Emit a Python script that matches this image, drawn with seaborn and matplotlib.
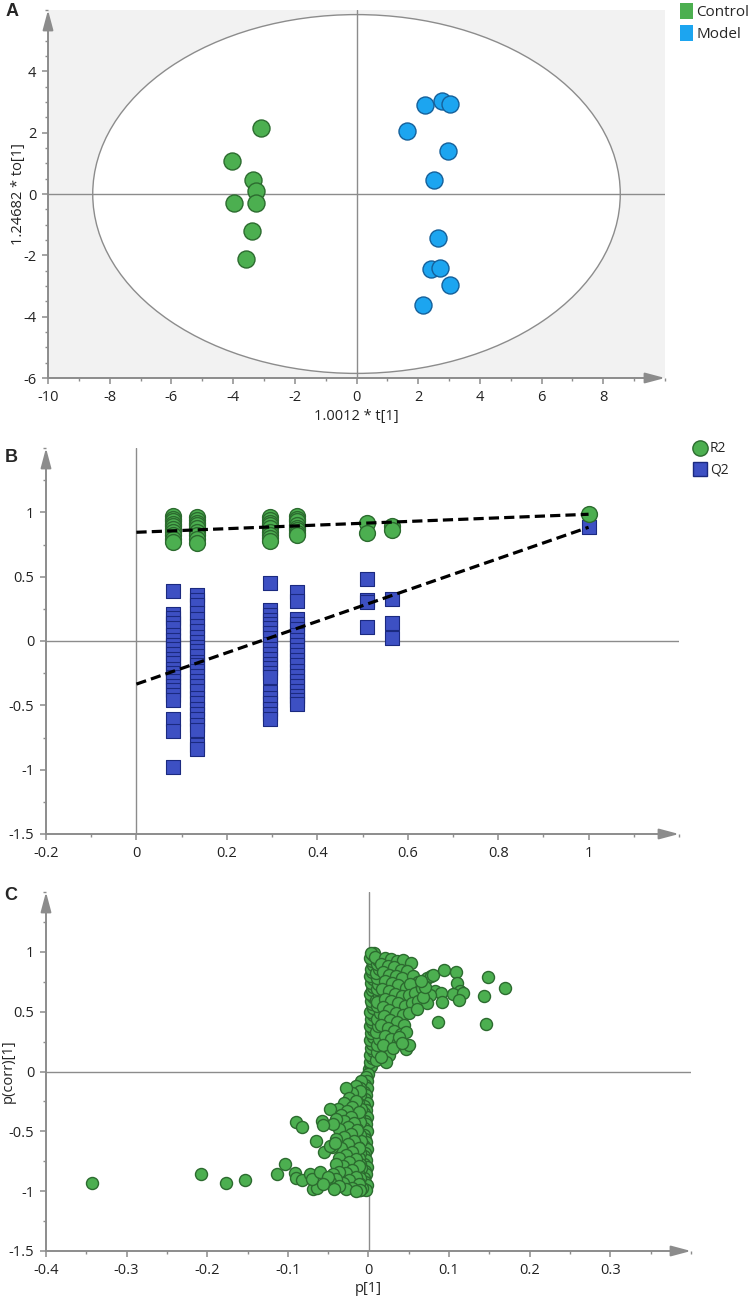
import numpy as np
import pandas as pd
import matplotlib
matplotlib.use("Agg")
import matplotlib.pyplot as plt
import seaborn as sns
from matplotlib.patches import Ellipse, Patch
from matplotlib.lines import Line2D
from matplotlib.ticker import MultipleLocator, FuncFormatter

# ---------------- Panel A data (OPLS-DA scores) ----------------
groups = ["Control", "Model"]
control_t = [-3.11, -4.03, -3.35, -3.26, -3.97, -3.26, -3.38, -3.57]
control_to = [2.15, 1.08, 0.46, 0.11, -0.29, -0.29, -1.20, -2.13]
model_t = [2.23, 2.77, 3.03, 1.63, 2.95, 2.52, 2.65, 2.42, 2.72, 3.02, 2.15]
model_to = [2.91, 3.02, 2.95, 2.07, 1.40, 0.46, -1.45, -2.45, -2.42, -2.97, -3.61]
ellipse_t_radius = 8.55
ellipse_to_radius = 5.85

# ---------------- Panel B data (permutation test) ----------------
perm_corr = [0.08, 0.135, 0.295, 0.355, 0.51, 0.565, 1.0]
r2_perm = [
    [0.97, 0.95, 0.93, 0.91, 0.89, 0.87, 0.85, 0.82, 0.79, 0.77],
    [0.96, 0.94, 0.92, 0.90, 0.88, 0.85, 0.82, 0.79, 0.76],
    [0.96, 0.94, 0.92, 0.90, 0.88, 0.85, 0.82, 0.80, 0.78],
    [0.97, 0.95, 0.93, 0.90, 0.88, 0.86, 0.84, 0.82],
    [0.92, 0.84],
    [0.89, 0.86],
    [0.99],
]
q2_perm = [
    [0.39, 0.21, 0.18, 0.14, 0.10, 0.05, 0.01, -0.03, -0.06, -0.10, -0.14, -0.17,
     -0.22, -0.25, -0.28, -0.31, -0.35, -0.38, -0.42, -0.46, -0.61, -0.70, -0.98],
    [0.36, 0.32, 0.28, 0.22, 0.17, 0.12, 0.08, 0.03, -0.01, -0.05, -0.08, -0.12,
     -0.16, -0.19, -0.23, -0.27, -0.31, -0.35, -0.39, -0.44, -0.48, -0.53, -0.57,
     -0.61, -0.65, -0.69, -0.81, -0.84],
    [0.45, 0.24, 0.20, 0.16, 0.13, 0.10, 0.06, 0.02, -0.02, -0.06, -0.10, -0.14,
     -0.18, -0.21, -0.25, -0.28, -0.40, -0.44, -0.48, -0.53, -0.57, -0.61],
    [0.38, 0.31, 0.17, 0.13, 0.09, 0.05, 0.01, -0.03, -0.07, -0.11, -0.15, -0.19,
     -0.23, -0.27, -0.31, -0.35, -0.39, -0.43, -0.46, -0.49],
    [0.48, 0.32, 0.30, 0.11],
    [0.33, 0.14, 0.02],
    [0.885],
]
r2_intercept = 0.845
q2_intercept = -0.335
r2_original = 0.985
q2_original = 0.884

# ---------------- Panel C data (S-plot) ----------------
pos_band_p = [0.001, 0.003, 0.002, 0.004, 0.002, 0.005, 0.003, 0.004, 0.002, 0.005, 0.003,
              0.006, 0.002, 0.004, 0.003, 0.005, 0.002, 0.006, 0.004, 0.003, 0.005, 0.002,
              0.004, 0.006, 0.003, 0.005, 0.002, 0.004, 0.003, 0.006, 0.004, 0.002, 0.005,
              0.004, 0.007, 0.003]
pos_band_corr = [0.02, 0.05, 0.08, 0.11, 0.14, 0.17, 0.20, 0.23, 0.26, 0.29, 0.32,
                 0.35, 0.38, 0.41, 0.44, 0.47, 0.50, 0.53, 0.56, 0.59, 0.62, 0.65,
                 0.68, 0.71, 0.74, 0.77, 0.80, 0.83, 0.86, 0.89, 0.92, 0.95, 0.97,
                 0.98, 0.99, 0.99]
pos_band2_p = [0.009, 0.011, 0.010, 0.013, 0.009, 0.012, 0.010, 0.014, 0.011, 0.009,
               0.013, 0.010, 0.012, 0.011, 0.009, 0.013, 0.010, 0.012, 0.008, 0.011]
pos_band2_corr = [0.10, 0.16, 0.22, 0.27, 0.33, 0.38, 0.44, 0.49, 0.55, 0.60,
                  0.64, 0.69, 0.73, 0.78, 0.82, 0.86, 0.90, 0.93, 0.96, 0.58]
pos_cloud_p = [0.020, 0.028, 0.035, 0.043, 0.053, 0.016, 0.024, 0.032, 0.040, 0.048,
               0.018, 0.026, 0.034, 0.042, 0.055, 0.062, 0.020, 0.029, 0.037, 0.046,
               0.052, 0.017, 0.025, 0.033, 0.041, 0.050, 0.058, 0.066, 0.020, 0.028,
               0.036, 0.045, 0.054, 0.062, 0.018, 0.026, 0.034, 0.043, 0.050, 0.019,
               0.027, 0.035, 0.044, 0.016, 0.024, 0.032, 0.040, 0.047, 0.020, 0.028,
               0.036, 0.046, 0.050, 0.025, 0.018, 0.022, 0.015, 0.030, 0.038, 0.042]
pos_cloud_corr = [0.95, 0.94, 0.92, 0.93, 0.91, 0.90, 0.88, 0.87, 0.85, 0.84,
                  0.83, 0.81, 0.80, 0.78, 0.80, 0.75, 0.76, 0.74, 0.72, 0.70,
                  0.73, 0.69, 0.67, 0.65, 0.63, 0.64, 0.66, 0.70, 0.61, 0.59,
                  0.57, 0.55, 0.57, 0.59, 0.54, 0.51, 0.49, 0.47, 0.49, 0.46,
                  0.43, 0.41, 0.39, 0.39, 0.36, 0.34, 0.31, 0.33, 0.30, 0.27,
                  0.25, 0.19, 0.22, 0.14, 0.22, 0.08, 0.12, 0.20, 0.29, 0.24]
pos_out_p = [0.073, 0.078, 0.080, 0.094, 0.109, 0.148, 0.169, 0.143, 0.146, 0.086,
             0.110, 0.113, 0.105, 0.117, 0.112, 0.083, 0.090, 0.091, 0.076, 0.072,
             0.068, 0.060, 0.070, 0.065]
pos_out_corr = [0.78, 0.80, 0.81, 0.85, 0.83, 0.79, 0.70, 0.63, 0.40, 0.41,
                0.74, 0.67, 0.65, 0.66, 0.60, 0.67, 0.66, 0.58, 0.64, 0.57,
                0.62, 0.52, 0.71, 0.76]
neg_band_p = [-0.001, -0.003, -0.002, -0.004, -0.002, -0.005, -0.003, -0.004, -0.002,
              -0.005, -0.003, -0.006, -0.002, -0.004, -0.003, -0.005, -0.002, -0.006,
              -0.004, -0.003, -0.005, -0.002, -0.004, -0.006, -0.003, -0.005, -0.002,
              -0.004, -0.003, -0.006, -0.004, -0.002, -0.005, -0.003]
neg_band_corr = [-0.02, -0.05, -0.08, -0.11, -0.14, -0.17, -0.20, -0.23, -0.26,
                 -0.29, -0.32, -0.35, -0.38, -0.41, -0.44, -0.47, -0.50, -0.53,
                 -0.56, -0.59, -0.62, -0.65, -0.68, -0.71, -0.74, -0.77, -0.80,
                 -0.83, -0.86, -0.89, -0.92, -0.95, -0.98, -0.99]
neg_band2_p = [-0.009, -0.011, -0.010, -0.013, -0.009, -0.012, -0.010, -0.014, -0.011,
               -0.009, -0.013, -0.010, -0.012, -0.011, -0.009, -0.013, -0.010, -0.012,
               -0.008, -0.011]
neg_band2_corr = [-0.08, -0.14, -0.20, -0.26, -0.31, -0.37, -0.42, -0.48, -0.53,
                  -0.58, -0.63, -0.68, -0.72, -0.77, -0.81, -0.85, -0.89, -0.93,
                  -0.97, -0.99]
neg_cloud_p = [-0.015, -0.010, -0.020, -0.028, -0.024, -0.016, -0.031, -0.038, -0.048,
               -0.020, -0.027, -0.034, -0.012, -0.022, -0.030, -0.040, -0.018, -0.026,
               -0.036, -0.044, -0.014, -0.022, -0.030, -0.040, -0.018, -0.026, -0.034,
               -0.045, -0.012, -0.020, -0.028, -0.037, -0.016, -0.024, -0.032, -0.040,
               -0.012, -0.020, -0.028, -0.036, -0.044, -0.016, -0.024, -0.032, -0.040,
               -0.048, -0.012, -0.020, -0.028, -0.036, -0.043, -0.052, -0.010, -0.016]
neg_cloud_corr = [-0.12, -0.16, -0.18, -0.14, -0.22, -0.25, -0.26, -0.31, -0.31,
                  -0.30, -0.33, -0.36, -0.34, -0.38, -0.41, -0.40, -0.43, -0.46,
                  -0.48, -0.44, -0.49, -0.52, -0.55, -0.56, -0.58, -0.61, -0.64,
                  -0.63, -0.64, -0.67, -0.70, -0.72, -0.73, -0.76, -0.79, -0.77,
                  -0.79, -0.82, -0.85, -0.84, -0.86, -0.88, -0.91, -0.93, -0.90,
                  -0.92, -0.94, -0.97, -0.98, -0.96, -0.98, -0.90, -0.99, -1.00]
neg_out_p = [-0.343, -0.208, -0.177, -0.153, -0.113, -0.103, -0.090, -0.083, -0.065,
             -0.058, -0.057, -0.091, -0.090, -0.082, -0.072, -0.069, -0.064, -0.070,
             -0.060, -0.055, -0.048, -0.042, -0.050, -0.056]
neg_out_corr = [-0.93, -0.86, -0.93, -0.91, -0.86, -0.77, -0.42, -0.46, -0.58,
                -0.41, -0.45, -0.85, -0.89, -0.91, -0.86, -0.98, -0.97, -0.90,
                -0.84, -0.67, -0.62, -0.60, -0.88, -0.94]

# ---------------- Style ----------------
sns.set_style("white")
plt.rcParams["font.family"] = ["Open Sans", "DejaVu Sans"]
plt.rcParams["axes.unicode_minus"] = False

GREEN = "#4CAF50"
GREEN_EDGE = "#2C6B2F"
BLUE = "#1CA5F0"
BLUE_EDGE = "#15609A"
NAVY = "#3D50C3"
NAVY_EDGE = "#1B2A80"
AXC = "#8C8C8C"
TXT = "#222222"

W, H = 749, 1297
fig = plt.figure(figsize=(W / 100, H / 100), dpi=100)


def px_axes(left, right, top, bottom):
    return fig.add_axes([left / W, 1 - bottom / H, (right - left) / W, (bottom - top) / H])


def _fmt(v, pos):
    v = round(v, 3) + 0.0
    if abs(v) < 1e-9:
        v = 0.0
    return "%g" % v


fmt = FuncFormatter(_fmt)


def style_axes(ax, xmaj, xmin, ymaj, ymin):
    for s in ax.spines.values():
        s.set_visible(False)
    x0, x1 = ax.get_xlim()
    y0, y1 = ax.get_ylim()
    # major ticks everywhere except at the arrow tip
    ax.set_xticks(np.arange(x0, x1 - xmaj / 2, xmaj))
    ax.set_yticks(np.arange(y0, y1 - ymaj / 2, ymaj))
    ax.set_xlim(x0, x1)
    ax.set_ylim(y0, y1)
    ax.xaxis.set_minor_locator(MultipleLocator(xmin))
    ax.yaxis.set_minor_locator(MultipleLocator(ymin))
    ax.xaxis.set_major_formatter(fmt)
    ax.yaxis.set_major_formatter(fmt)
    ax.tick_params(which="both", direction="out", color=AXC, bottom=True, left=True,
                   top=False, right=False)
    ax.tick_params(which="major", length=4.5, width=1.1, labelsize=10.5,
                   labelcolor=TXT, pad=4)
    ax.tick_params(which="minor", length=2.5, width=1.0)
    kw = dict(arrowstyle="-|>,head_length=1.2,head_width=0.32", color=AXC, lw=1.4,
              shrinkA=0, shrinkB=0)
    ax.annotate("", xy=(0, 1), xytext=(0, 0), xycoords="axes fraction",
                arrowprops=kw, annotation_clip=False, zorder=6)
    ax.annotate("", xy=(1, 0), xytext=(0, 0), xycoords="axes fraction",
                arrowprops=kw, annotation_clip=False, zorder=6)
    ax.axhline(0, color=AXC, lw=1.0, zorder=1)
    ax.axvline(0, color=AXC, lw=1.0, zorder=1)
    ax.set_xlabel("")
    ax.set_ylabel("")


# ---------------- Panel A ----------------
axA = px_axes(48, 665, 10, 378)
axA.set_facecolor("#F2F2F2")
axA.set_xlim(-10, 10)
axA.set_ylim(-6, 6)
axA.add_patch(Ellipse((0, 0), 2 * ellipse_t_radius, 2 * ellipse_to_radius,
                      facecolor="white", edgecolor="#8C8C8C", lw=1.0, zorder=0.5))
dfA = pd.DataFrame({
    "t": control_t + model_t,
    "to": control_to + model_to,
    "group": [groups[0]] * len(control_t) + [groups[1]] * len(model_t),
})
for g, fc, ec in [(groups[0], GREEN, GREEN_EDGE), (groups[1], BLUE, BLUE_EDGE)]:
    sns.scatterplot(data=dfA[dfA["group"] == g], x="t", y="to", color=fc,
                    edgecolor=ec, linewidth=1.0, s=150, ax=axA, zorder=4, legend=False)
style_axes(axA, 2, 1, 2, 0.5)
axA.set_xlabel("1.0012 * t[1]", fontsize=10.5, color=TXT)
axA.set_ylabel("1.24682 * to[1]", fontsize=10.5, color=TXT)
axA.xaxis.set_label_coords(0.5, -0.083)
axA.yaxis.set_label_coords(-0.036, 0.5)
fig.legend(handles=[Patch(facecolor=GREEN, edgecolor="none", label=groups[0]),
                    Patch(facecolor=BLUE, edgecolor="none", label=groups[1])],
           loc="upper left", bbox_to_anchor=(678 / W, 1 - 1 / H), frameon=False,
           fontsize=11, handlelength=0.85, handleheight=1.3, handletextpad=0.25,
           labelspacing=0.3, borderaxespad=0, borderpad=0.1)

# ---------------- Panel B ----------------
axB = px_axes(46, 679, 448, 834)
axB.set_xlim(-0.2, 1.2)
axB.set_ylim(-1.5, 1.5)
rows = []
for c, r2s, q2s in zip(perm_corr, r2_perm, q2_perm):
    rows += [(c, v, "R2") for v in r2s]
    rows += [(c, v, "Q2") for v in q2s]
dfB = pd.DataFrame(rows, columns=["corr", "value", "stat"])
sns.scatterplot(data=dfB[dfB["stat"] == "Q2"], x="corr", y="value", marker="s",
                color=NAVY, edgecolor=NAVY_EDGE, linewidth=0.8, s=95, ax=axB,
                zorder=3, legend=False)
sns.scatterplot(data=dfB[dfB["stat"] == "R2"], x="corr", y="value", marker="o",
                color=GREEN, edgecolor=GREEN_EDGE, linewidth=1.0, s=130, ax=axB,
                zorder=3.5, legend=False)
lines = pd.DataFrame({"x": [0, 1, 0, 1],
                      "y": [r2_intercept, r2_original, q2_intercept, q2_original],
                      "stat": ["R2", "R2", "Q2", "Q2"]})
for st in ["R2", "Q2"]:
    d = lines[lines["stat"] == st]
    axB.plot(d["x"], d["y"], color="black", lw=2.3, ls=(0, (3.2, 1.6)), zorder=5)
style_axes(axB, 0.2, 0.1, 0.5, 0.25)
fig.legend(handles=[Line2D([], [], marker="o", ls="none", markersize=11,
                           markerfacecolor=GREEN, markeredgecolor=GREEN_EDGE, label="R2"),
                    Line2D([], [], marker="s", ls="none", markersize=10,
                           markerfacecolor=NAVY, markeredgecolor=NAVY_EDGE, label="Q2")],
           loc="upper left", bbox_to_anchor=(692 / W, 1 - 440 / H), frameon=False,
           fontsize=10, handlelength=1.0, handletextpad=0.2, labelspacing=0.45,
           borderaxespad=0, borderpad=0.1)

# ---------------- Panel C ----------------
axC = px_axes(46, 691, 892, 1251)
axC.set_xlim(-0.4, 0.4)
axC.set_ylim(-1.5, 1.5)
dfC = pd.DataFrame({
    "p": pos_band_p + pos_band2_p + pos_cloud_p + pos_out_p
         + neg_band_p + neg_band2_p + neg_cloud_p + neg_out_p,
    "pcorr": pos_band_corr + pos_band2_corr + pos_cloud_corr + pos_out_corr
             + neg_band_corr + neg_band2_corr + neg_cloud_corr + neg_out_corr,
})
sns.scatterplot(data=dfC, x="p", y="pcorr", color=GREEN, edgecolor=GREEN_EDGE,
                linewidth=1.0, s=75, ax=axC, zorder=3, legend=False)
style_axes(axC, 0.1, 0.05, 0.5, 0.25)
axC.set_xlabel("p[1]", fontsize=10.5, color=TXT)
axC.set_ylabel("p(corr)[1]", fontsize=10.5, color=TXT)
axC.xaxis.set_label_coords(0.5, -0.083)
axC.yaxis.set_label_coords(-0.047, 0.5)

# panel letters
for letter, (x, y) in {"A": (12, 12), "B": (11, 457), "C": (11, 896)}.items():
    fig.text(x / W, 1 - y / H, letter, fontsize=13, fontweight="bold",
             family=["Liberation Sans", "DejaVu Sans"], ha="center", va="center")

fig.savefig("out.png", dpi=100, facecolor="white")
